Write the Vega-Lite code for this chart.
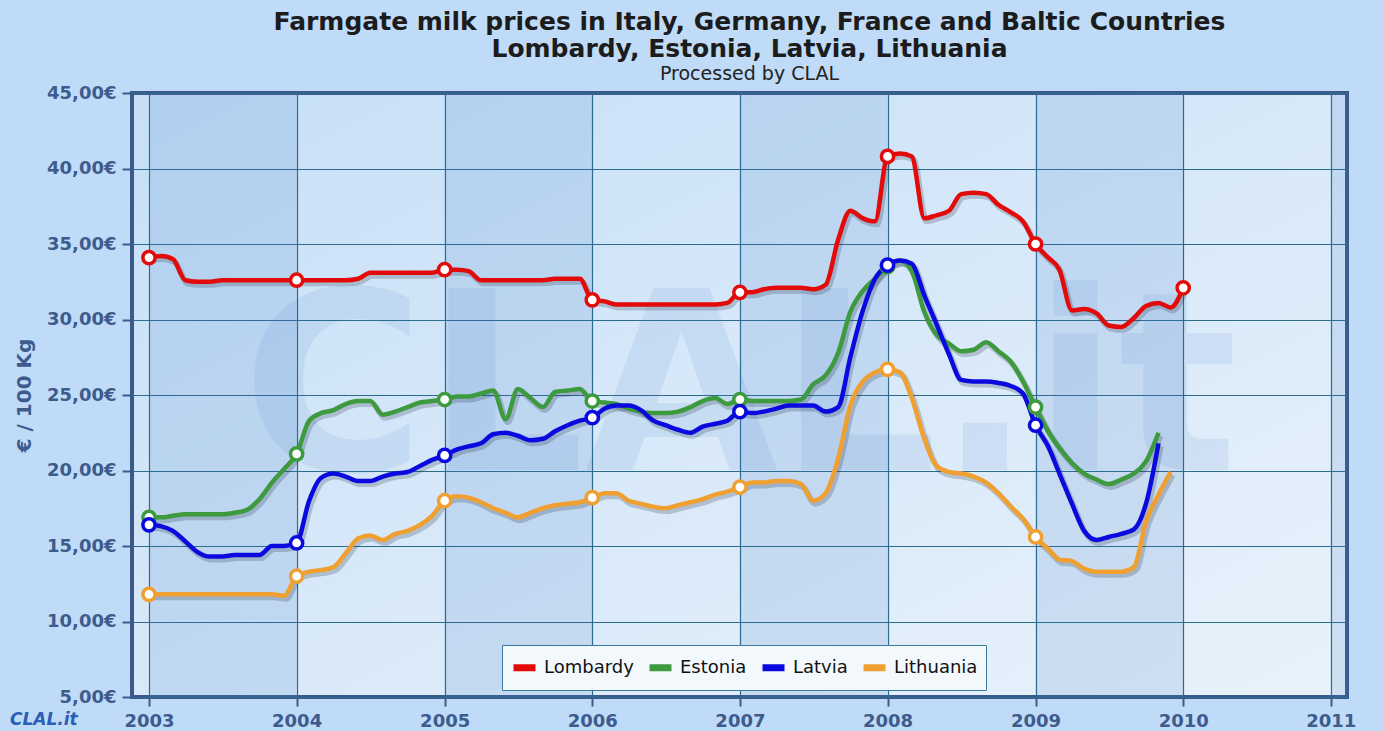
{
  "$schema": "https://vega.github.io/schema/vega-lite/v6.json",
  "width": 1215,
  "height": 604,
  "autosize": {"type": "none"},
  "padding": {"left": 132, "top": 93, "right": 37, "bottom": 34},
  "background": "#bfdbf7",
  "title": {
    "text": ["Farmgate milk prices in Italy, Germany, France and Baltic Countries", "Lombardy, Estonia, Latvia, Lithuania"],
    "subtitle": "Processed by CLAL",
    "anchor": "middle",
    "frame": "group",
    "dx": 10,
    "font": "DejaVu Sans",
    "fontSize": 25,
    "fontWeight": "bold",
    "color": "#1c1c1c",
    "lineHeight": 27,
    "subtitleFont": "DejaVu Sans",
    "subtitleFontSize": 19,
    "subtitleColor": "#222222",
    "subtitlePadding": 3,
    "offset": 0
  },
  "config": {
    "view": {
      "fill": {"gradient": "linear", "x1": 0, "y1": 0, "x2": 1, "y2": 1, "stops": [{"offset": 0, "color": "#c6dff7"}, {"offset": 1, "color": "#e9f2fb"}]},
      "stroke": "#3b5a8b",
      "strokeWidth": 4
    },
    "axis": {
      "labelFont": "DejaVu Sans",
      "labelFontWeight": "bold",
      "labelFontSize": 18,
      "labelColor": "#3d5b8c",
      "titleFont": "DejaVu Sans",
      "titleFontWeight": "bold",
      "titleFontSize": 20,
      "titleColor": "#3d5b8c",
      "tickColor": "#3d5b8c",
      "tickWidth": 2,
      "gridColor": "#2b6b8c",
      "gridWidth": 1.2,
      "gridOpacity": 1,
      "domain": false
    }
  },
  "datasets": {
    "bands": [
      {"a": "2003-01-01", "b": "2004-01-01"},
      {"a": "2005-01-01", "b": "2006-01-01"},
      {"a": "2007-01-01", "b": "2008-01-01"},
      {"a": "2009-01-01", "b": "2010-01-01"},
      {"a": "2011-01-01", "b": "2012-01-01"}
    ],
    "milk": [
      {"d": "2003-01-01", "Lombardy": 34.1, "Estonia": 16.9, "Latvia": 16.4, "Lithuania": 11.8},
      {"d": "2003-02-01", "Lombardy": 34.2, "Estonia": 16.9, "Latvia": 16.3, "Lithuania": 11.8},
      {"d": "2003-03-01", "Lombardy": 34.0, "Estonia": 17.0, "Latvia": 16.0, "Lithuania": 11.8},
      {"d": "2003-04-01", "Lombardy": 32.6, "Estonia": 17.1, "Latvia": 15.3, "Lithuania": 11.8},
      {"d": "2003-05-01", "Lombardy": 32.5, "Estonia": 17.1, "Latvia": 14.6, "Lithuania": 11.8},
      {"d": "2003-06-01", "Lombardy": 32.5, "Estonia": 17.1, "Latvia": 14.3, "Lithuania": 11.8},
      {"d": "2003-07-01", "Lombardy": 32.6, "Estonia": 17.1, "Latvia": 14.3, "Lithuania": 11.8},
      {"d": "2003-08-01", "Lombardy": 32.6, "Estonia": 17.2, "Latvia": 14.4, "Lithuania": 11.8},
      {"d": "2003-09-01", "Lombardy": 32.6, "Estonia": 17.4, "Latvia": 14.4, "Lithuania": 11.8},
      {"d": "2003-10-01", "Lombardy": 32.6, "Estonia": 18.1, "Latvia": 14.4, "Lithuania": 11.8},
      {"d": "2003-11-01", "Lombardy": 32.6, "Estonia": 19.2, "Latvia": 15.0, "Lithuania": 11.8},
      {"d": "2003-12-01", "Lombardy": 32.6, "Estonia": 20.1, "Latvia": 15.0, "Lithuania": 11.7},
      {"d": "2004-01-01", "Lombardy": 32.6, "Estonia": 21.1, "Latvia": 15.2, "Lithuania": 13.0},
      {"d": "2004-02-01", "Lombardy": 32.6, "Estonia": 23.3, "Latvia": 18.0, "Lithuania": 13.3},
      {"d": "2004-03-01", "Lombardy": 32.6, "Estonia": 23.8, "Latvia": 19.5, "Lithuania": 13.4},
      {"d": "2004-04-01", "Lombardy": 32.6, "Estonia": 24.0, "Latvia": 19.8, "Lithuania": 13.6},
      {"d": "2004-05-01", "Lombardy": 32.6, "Estonia": 24.4, "Latvia": 19.6, "Lithuania": 14.5},
      {"d": "2004-06-01", "Lombardy": 32.7, "Estonia": 24.6, "Latvia": 19.3, "Lithuania": 15.5},
      {"d": "2004-07-01", "Lombardy": 33.1, "Estonia": 24.6, "Latvia": 19.3, "Lithuania": 15.7},
      {"d": "2004-08-01", "Lombardy": 33.1, "Estonia": 23.7, "Latvia": 19.6, "Lithuania": 15.4},
      {"d": "2004-09-01", "Lombardy": 33.1, "Estonia": 23.9, "Latvia": 19.8, "Lithuania": 15.8},
      {"d": "2004-10-01", "Lombardy": 33.1, "Estonia": 24.2, "Latvia": 19.9, "Lithuania": 16.0},
      {"d": "2004-11-01", "Lombardy": 33.1, "Estonia": 24.5, "Latvia": 20.3, "Lithuania": 16.4},
      {"d": "2004-12-01", "Lombardy": 33.1, "Estonia": 24.6, "Latvia": 20.7, "Lithuania": 17.0},
      {"d": "2005-01-01", "Lombardy": 33.3, "Estonia": 24.7, "Latvia": 21.0, "Lithuania": 18.0},
      {"d": "2005-02-01", "Lombardy": 33.3, "Estonia": 24.9, "Latvia": 21.4, "Lithuania": 18.3},
      {"d": "2005-03-01", "Lombardy": 33.2, "Estonia": 24.9, "Latvia": 21.6, "Lithuania": 18.2},
      {"d": "2005-04-01", "Lombardy": 32.6, "Estonia": 25.1, "Latvia": 21.8, "Lithuania": 17.9},
      {"d": "2005-05-01", "Lombardy": 32.6, "Estonia": 25.3, "Latvia": 22.4, "Lithuania": 17.5},
      {"d": "2005-06-01", "Lombardy": 32.6, "Estonia": 23.4, "Latvia": 22.5, "Lithuania": 17.2},
      {"d": "2005-07-01", "Lombardy": 32.6, "Estonia": 25.4, "Latvia": 22.3, "Lithuania": 16.9},
      {"d": "2005-08-01", "Lombardy": 32.6, "Estonia": 24.8, "Latvia": 22.0, "Lithuania": 17.2},
      {"d": "2005-09-01", "Lombardy": 32.6, "Estonia": 24.2, "Latvia": 22.1, "Lithuania": 17.5},
      {"d": "2005-10-01", "Lombardy": 32.7, "Estonia": 25.2, "Latvia": 22.6, "Lithuania": 17.7},
      {"d": "2005-11-01", "Lombardy": 32.7, "Estonia": 25.3, "Latvia": 23.0, "Lithuania": 17.8},
      {"d": "2005-12-01", "Lombardy": 32.7, "Estonia": 25.4, "Latvia": 23.3, "Lithuania": 17.9},
      {"d": "2006-01-01", "Lombardy": 31.3, "Estonia": 24.6, "Latvia": 23.5, "Lithuania": 18.2},
      {"d": "2006-02-01", "Lombardy": 31.2, "Estonia": 24.5, "Latvia": 24.1, "Lithuania": 18.5},
      {"d": "2006-03-01", "Lombardy": 31.0, "Estonia": 24.4, "Latvia": 24.3, "Lithuania": 18.5},
      {"d": "2006-04-01", "Lombardy": 31.0, "Estonia": 24.1, "Latvia": 24.3, "Lithuania": 18.0},
      {"d": "2006-05-01", "Lombardy": 31.0, "Estonia": 23.9, "Latvia": 24.0, "Lithuania": 17.8},
      {"d": "2006-06-01", "Lombardy": 31.0, "Estonia": 23.8, "Latvia": 23.3, "Lithuania": 17.6},
      {"d": "2006-07-01", "Lombardy": 31.0, "Estonia": 23.8, "Latvia": 23.0, "Lithuania": 17.5},
      {"d": "2006-08-01", "Lombardy": 31.0, "Estonia": 23.9, "Latvia": 22.7, "Lithuania": 17.7},
      {"d": "2006-09-01", "Lombardy": 31.0, "Estonia": 24.2, "Latvia": 22.5, "Lithuania": 17.9},
      {"d": "2006-10-01", "Lombardy": 31.0, "Estonia": 24.6, "Latvia": 22.9, "Lithuania": 18.1},
      {"d": "2006-11-01", "Lombardy": 31.0, "Estonia": 24.8, "Latvia": 23.1, "Lithuania": 18.4},
      {"d": "2006-12-01", "Lombardy": 31.1, "Estonia": 24.4, "Latvia": 23.3, "Lithuania": 18.6},
      {"d": "2007-01-01", "Lombardy": 31.8, "Estonia": 24.7, "Latvia": 23.9, "Lithuania": 18.9},
      {"d": "2007-02-01", "Lombardy": 31.8, "Estonia": 24.6, "Latvia": 23.8, "Lithuania": 19.2},
      {"d": "2007-03-01", "Lombardy": 32.0, "Estonia": 24.6, "Latvia": 23.9, "Lithuania": 19.2},
      {"d": "2007-04-01", "Lombardy": 32.1, "Estonia": 24.6, "Latvia": 24.1, "Lithuania": 19.3},
      {"d": "2007-05-01", "Lombardy": 32.1, "Estonia": 24.6, "Latvia": 24.3, "Lithuania": 19.3},
      {"d": "2007-06-01", "Lombardy": 32.1, "Estonia": 24.7, "Latvia": 24.3, "Lithuania": 19.1},
      {"d": "2007-07-01", "Lombardy": 32.0, "Estonia": 25.7, "Latvia": 24.3, "Lithuania": 18.0},
      {"d": "2007-08-01", "Lombardy": 32.3, "Estonia": 26.3, "Latvia": 23.9, "Lithuania": 18.5},
      {"d": "2007-09-01", "Lombardy": 35.3, "Estonia": 27.8, "Latvia": 24.2, "Lithuania": 20.8},
      {"d": "2007-10-01", "Lombardy": 37.2, "Estonia": 30.5, "Latvia": 27.5, "Lithuania": 24.3},
      {"d": "2007-11-01", "Lombardy": 36.7, "Estonia": 31.9, "Latvia": 30.6, "Lithuania": 25.9},
      {"d": "2007-12-01", "Lombardy": 36.5, "Estonia": 32.7, "Latvia": 32.7, "Lithuania": 26.5},
      {"d": "2008-01-01", "Lombardy": 40.8, "Estonia": 33.5, "Latvia": 33.6, "Lithuania": 26.7},
      {"d": "2008-02-01", "Lombardy": 41.0, "Estonia": 33.9, "Latvia": 33.9, "Lithuania": 26.5},
      {"d": "2008-03-01", "Lombardy": 40.8, "Estonia": 33.2, "Latvia": 33.7, "Lithuania": 24.8},
      {"d": "2008-04-01", "Lombardy": 36.7, "Estonia": 30.5, "Latvia": 31.6, "Lithuania": 22.1},
      {"d": "2008-05-01", "Lombardy": 36.9, "Estonia": 29.0, "Latvia": 29.7, "Lithuania": 20.3},
      {"d": "2008-06-01", "Lombardy": 37.2, "Estonia": 28.4, "Latvia": 27.7, "Lithuania": 19.9},
      {"d": "2008-07-01", "Lombardy": 38.3, "Estonia": 27.9, "Latvia": 26.0, "Lithuania": 19.8},
      {"d": "2008-08-01", "Lombardy": 38.4, "Estonia": 28.0, "Latvia": 25.9, "Lithuania": 19.6},
      {"d": "2008-09-01", "Lombardy": 38.3, "Estonia": 28.5, "Latvia": 25.9, "Lithuania": 19.2},
      {"d": "2008-10-01", "Lombardy": 37.6, "Estonia": 27.9, "Latvia": 25.8, "Lithuania": 18.5},
      {"d": "2008-11-01", "Lombardy": 37.1, "Estonia": 27.2, "Latvia": 25.6, "Lithuania": 17.6},
      {"d": "2008-12-01", "Lombardy": 36.5, "Estonia": 25.9, "Latvia": 25.1, "Lithuania": 16.8},
      {"d": "2009-01-01", "Lombardy": 35.0, "Estonia": 24.2, "Latvia": 23.0, "Lithuania": 15.6},
      {"d": "2009-02-01", "Lombardy": 34.1, "Estonia": 22.6, "Latvia": 21.6, "Lithuania": 14.8},
      {"d": "2009-03-01", "Lombardy": 33.3, "Estonia": 21.5, "Latvia": 19.8, "Lithuania": 14.1},
      {"d": "2009-04-01", "Lombardy": 30.6, "Estonia": 20.5, "Latvia": 17.8, "Lithuania": 14.0},
      {"d": "2009-05-01", "Lombardy": 30.7, "Estonia": 19.8, "Latvia": 16.0, "Lithuania": 13.5},
      {"d": "2009-06-01", "Lombardy": 30.4, "Estonia": 19.4, "Latvia": 15.4, "Lithuania": 13.3},
      {"d": "2009-07-01", "Lombardy": 29.6, "Estonia": 19.1, "Latvia": 15.6, "Lithuania": 13.3},
      {"d": "2009-08-01", "Lombardy": 29.5, "Estonia": 19.4, "Latvia": 15.8, "Lithuania": 13.3},
      {"d": "2009-09-01", "Lombardy": 30.1, "Estonia": 19.8, "Latvia": 16.1, "Lithuania": 13.6},
      {"d": "2009-10-01", "Lombardy": 30.9, "Estonia": 20.6, "Latvia": 17.8, "Lithuania": 16.6},
      {"d": "2009-11-01", "Lombardy": 31.1, "Estonia": 22.5, "Latvia": 21.8, "Lithuania": 18.4},
      {"d": "2009-12-01", "Lombardy": 30.8, "Lithuania": 19.9},
      {"d": "2010-01-01", "Lombardy": 32.1}
    ]
  },
  "layer": [
    {
      "data": {"name": "bands"},
      "mark": {"type": "rect", "color": "#3f78c4", "opacity": 0.15, "clip": true},
      "encoding": {
        "x": {
          "field": "a", "type": "temporal",
          "scale": {"type": "utc", "domain": [{"year": 2002, "month": 11, "date": 20, "utc": true}, {"year": 2011, "month": 2, "date": 10, "utc": true}]},
          "axis": {
            "title": null,
            "format": "%Y",
            "values": [{"year": 2003, "utc": true}, {"year": 2004, "utc": true}, {"year": 2005, "utc": true}, {"year": 2006, "utc": true}, {"year": 2007, "utc": true}, {"year": 2008, "utc": true}, {"year": 2009, "utc": true}, {"year": 2010, "utc": true}, {"year": 2011, "utc": true}],
            "tickSize": 9,
            "labelPadding": 6,
            "grid": true
          }
        },
        "x2": {"field": "b"}
      }
    },
    {
      "data": {"values": [{}]},
      "mark": {"type": "text", "text": "CLAL.it", "font": "DejaVu Sans", "fontWeight": "bold", "fontSize": 250, "color": "#3f78c4", "opacity": 0.1, "align": "center", "baseline": "middle"},
      "encoding": {
        "x": {"datum": {"year": 2007, "month": 1, "date": 1, "utc": true}, "type": "temporal"},
        "y": {"datum": 25, "type": "quantitative", "scale": {"domain": [5, 45], "zero": false}}
      }
    },
    {
      "data": {"values": [{}]},
      "mark": {"type": "text", "text": "CLAL.it", "font": "DejaVu Sans", "fontWeight": "bold", "fontStyle": "italic", "fontSize": 17, "color": "#2a5fb5", "align": "center", "baseline": "middle", "clip": false},
      "encoding": {
        "x": {"datum": {"year": 2002, "month": 4, "date": 16, "utc": true}, "type": "temporal"},
        "y": {"datum": 3.5, "type": "quantitative", "scale": {"domain": [5, 45], "zero": false}}
      }
    },
    {
      "data": {"name": "milk"},
      "transform": [
        {"fold": ["Lombardy", "Estonia", "Latvia", "Lithuania"], "as": ["s", "v"]},
        {"filter": "isValid(datum.v)"}
      ],
      "mark": {"type": "line", "interpolate": "monotone", "strokeWidth": 6, "color": "#1a2a3a", "opacity": 0.22, "xOffset": 2, "yOffset": 3},
      "encoding": {
        "x": {"field": "d", "type": "temporal"},
        "y": {
          "field": "v", "type": "quantitative",
          "scale": {"domain": [5, 45], "zero": false},
          "axis": {
            "title": "€ / 100 Kg",
            "values": [5, 10, 15, 20, 25, 30, 35, 40, 45],
            "labelExpr": "replace(format(datum.value, '.2f'), '.', ',') + '€'",
            "tickSize": 10,
            "labelPadding": 6,
            "titlePadding": 12,
            "grid": true
          }
        },
        "detail": {"field": "s", "type": "nominal"}
      }
    },
    {
      "data": {"name": "milk"},
      "transform": [
        {"fold": ["Lombardy", "Estonia", "Latvia", "Lithuania"], "as": ["s", "v"]},
        {"filter": "isValid(datum.v)"}
      ],
      "mark": {"type": "line", "interpolate": "monotone", "strokeWidth": 4.5},
      "encoding": {
        "x": {"field": "d", "type": "temporal"},
        "y": {"field": "v", "type": "quantitative", "scale": {"domain": [5, 45], "zero": false}},
        "color": {
          "field": "s", "type": "nominal",
          "scale": {"domain": ["Lombardy", "Estonia", "Latvia", "Lithuania"], "range": ["#e30a0a", "#3e9a3e", "#0a0ade", "#f0a030"]},
          "legend": {
            "title": null,
            "orient": "none",
            "legendX": 370,
            "legendY": 552,
            "direction": "horizontal",
            "fillColor": "#f3f8fd",
            "strokeColor": "#3a7b9a",
            "padding": 8,
            "labelFont": "DejaVu Sans",
            "labelFontSize": 18,
            "labelColor": "#111111",
            "symbolType": "stroke",
            "symbolSize": 484,
            "symbolStrokeWidth": 7,
            "labelOffset": 5,
            "columnPadding": 1
          }
        }
      }
    },
    {
      "data": {"name": "milk"},
      "transform": [
        {"fold": ["Lombardy", "Estonia", "Latvia", "Lithuania"], "as": ["s", "v"]},
        {"filter": "isValid(datum.v)"},
        {"filter": "utcmonth(toDate(datum.d)) == 0"}
      ],
      "mark": {"type": "point", "shape": "circle", "filled": false, "fill": "white", "fillOpacity": 1, "strokeWidth": 3.5, "size": 150, "opacity": 1},
      "encoding": {
        "x": {"field": "d", "type": "temporal"},
        "y": {"field": "v", "type": "quantitative", "scale": {"domain": [5, 45], "zero": false}},
        "stroke": {
          "field": "s", "type": "nominal",
          "scale": {"domain": ["Lombardy", "Estonia", "Latvia", "Lithuania"], "range": ["#e30a0a", "#3e9a3e", "#0a0ade", "#f0a030"]},
          "legend": null
        }
      }
    }
  ]
}
